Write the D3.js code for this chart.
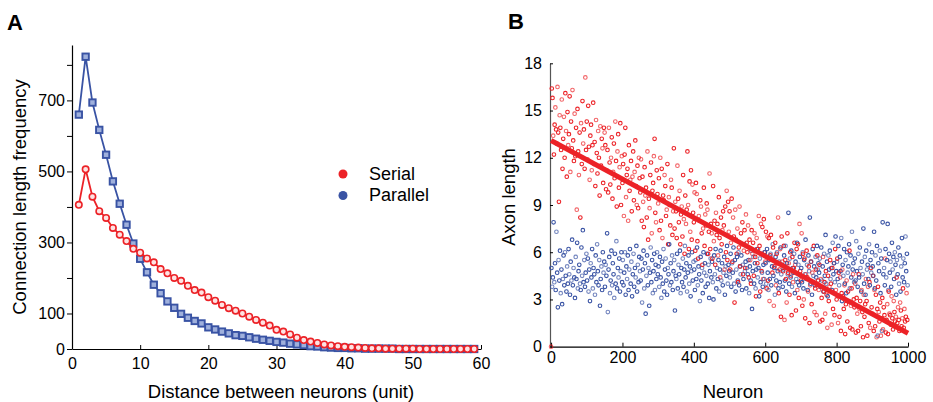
<!DOCTYPE html>
<html>
<head>
<meta charset="utf-8">
<script src="https://cdn.jsdelivr.net/npm/d3@7"></script>
<style>
  body { margin: 0; background: #fff; }
  text { font-family: Arial, "Liberation Sans", sans-serif; }
</style>
</head>
<body>
<svg id="chart"></svg>
<script>
// ---- panel A: connection length histograms ----
const distance = d3.range(1, 60);
const serialFreq = [406, 506, 429, 388, 369, 341, 322, 304, 282, 271, 255, 244, 225, 213, 200, 192, 178, 166, 159,
  146, 136, 124, 115, 108, 100, 91, 82, 74, 66, 54, 49, 41, 32, 25, 21, 17, 13, 10, 8, 6, 5, 4, 3, 2, 2,
  1, 1, 1, 1, 1, 0, 0, 0, 0, 0, 0, 0, 0, 0];
const parallelFreq = [660, 823, 694, 617, 547, 472, 409, 350, 297, 254, 216, 181, 157, 134, 116, 99, 88, 79, 72,
  61, 55, 49, 44, 39, 37, 33, 29, 26, 23, 20, 18, 15, 13, 11, 8, 7, 5, 4, 3, 3, 2, 2, 1, 1, 1,
  1, 1, 0, 0, 0, 0, 0, 0, 0, 0, 0, 0, 0, 0];
const freqTicks = d3.range(0, 900, 100);
const freqLabels = [0, 100, 300, 500, 700];
const distTicks = [0, 10, 20, 30, 40, 50, 60];
const legendNames = ["Serial", "Parallel"];

// ---- panel B: axon length per neuron (every 2nd neuron) ----
const serialAxon = [
  0.0, 16.4, 15.8, 13.4, 12.2, 14.1, 15.2, 13.8, 12.9, 16.5, 13.6, 9.2, 14.7, 13.9, 12.5, 15.7, 11.3, 13.2, 14.6, 12.0, 16.1, 13.7, 10.8, 14.9, 12.8,
  13.5, 15.9, 11.1, 14.3, 12.6, 16.3, 13.1, 11.8, 14.8, 12.1, 13.9, 8.7, 15.1, 12.4, 10.9, 13.6, 8.2, 14.2, 11.6, 15.6, 12.9, 13.8, 11.3, 17.1, 12.5,
  14.3, 11.9, 15.3, 12.7, 10.6, 13.4, 14.1, 11.2, 12.8, 15.5, 11.6, 13.0, 10.2, 14.4, 12.3, 11.0, 13.7, 12.0, 9.6, 14.0, 11.5, 13.2, 12.6, 10.4, 13.9,
  13.6, 12.8, 10.0, 11.2, 12.5, 9.8, 13.9, 11.7, 10.3, 12.0, 13.3, 9.4, 11.1, 12.9, 10.7, 14.3, 11.8, 8.9, 12.4, 13.5, 10.1, 11.4, 14.2, 9.0, 12.1,
  10.4, 11.6, 8.3, 12.2, 13.9, 9.5, 10.9, 11.3, 8.0, 12.8, 9.9, 10.6, 11.8, 8.6, 10.8, 12.4, 9.3, 11.1, 13.1, 10.2, 9.0, 11.5, 8.8, 12.0, 10.7,
  9.8, 11.9, 8.0, 10.8, 9.2, 7.6, 11.4, 9.6, 10.1, 8.2, 12.4, 6.8, 9.4, 8.8, 10.9, 11.7, 7.2, 9.9, 10.4, 12.1, 13.2, 8.5, 7.9, 11.2, 9.7,
  9.1, 10.7, 7.4, 12.0, 8.0, 11.3, 6.9, 9.6, 9.3, 10.9, 10.2, 8.3, 8.7, 11.6, 6.5, 9.5, 9.0, 7.7, 10.6, 10.1, 7.1, 8.6, 12.6, 7.5, 9.2,
  8.6, 6.9, 11.5, 9.4, 7.9, 9.9, 6.5, 8.4, 8.9, 7.0, 10.9, 8.1, 5.9, 9.6, 7.8, 8.7, 12.4, 9.0, 6.2, 10.5, 7.3, 11.2, 6.8, 10.3, 8.5,
  7.9, 9.8, 6.1, 10.4, 9.7, 6.7, 5.6, 8.3, 8.0, 9.3, 8.9, 7.2, 5.2, 7.5, 10.1, 6.4, 8.4, 7.7, 9.1, 8.7, 5.9, 7.3, 11.0, 6.2, 7.8,
  7.2, 5.6, 10.2, 6.7, 8.0, 5.2, 8.5, 7.1, 7.8, 5.8, 9.5, 6.9, 4.4, 8.2, 6.5, 7.4, 8.6, 7.7, 4.9, 8.9, 6.0, 9.9, 5.5, 9.2, 7.3,
  8.6, 4.9, 6.6, 9.4, 5.4, 8.2, 7.0, 2.8, 8.7, 6.8, 5.9, 7.5, 4.1, 6.3, 8.9, 5.1, 7.2, 6.5, 7.9, 4.6, 6.1, 7.4, 5.0, 8.4, 6.6,
  6.0, 7.7, 4.4, 6.8, 5.5, 4.0, 7.4, 5.9, 6.6, 4.5, 7.2, 5.7, 3.2, 6.9, 5.3, 6.2, 8.3, 6.4, 3.5, 7.8, 4.8, 7.6, 4.3, 8.1, 6.0,
  5.4, 7.3, 3.7, 7.0, 4.2, 6.9, 2.9, 5.8, 7.1, 5.6, 4.7, 6.3, 2.6, 5.1, 6.6, 3.9, 5.9, 5.3, 8.2, 3.4, 4.9, 6.2, 1.9, 7.0, 5.4,
  4.8, 6.4, 1.7, 5.5, 4.3, 2.8, 7.2, 4.7, 5.3, 3.3, 6.0, 4.5, 2.0, 5.7, 4.1, 5.0, 6.6, 5.2, 2.3, 6.2, 3.6, 6.5, 3.1, 7.8, 4.8,
  4.2, 7.2, 2.6, 5.9, 3.0, 5.6, 1.8, 4.6, 6.1, 4.4, 3.5, 5.1, 1.5, 3.9, 5.4, 2.7, 4.7, 4.1, 6.4, 2.2, 3.7, 4.9, 2.0, 5.8, 4.2,
  3.6, 5.2, 1.6, 4.3, 3.1, 1.7, 5.7, 3.5, 4.1, 2.1, 4.8, 3.3, 1.2, 4.5, 2.9, 3.8, 5.5, 4.0, 1.4, 5.0, 2.4, 5.3, 2.0, 6.2, 3.6,
  3.0, 5.6, 1.5, 4.7, 1.9, 4.4, 1.0, 3.4, 4.9, 3.2, 2.4, 3.9, 0.8, 2.7, 4.2, 1.6, 3.5, 2.9, 6.1, 1.2, 2.6, 3.7, 1.1, 4.6, 3.0,
  2.5, 4.0, 0.9, 3.1, 2.1, 1.0, 4.6, 2.4, 2.9, 1.3, 3.6, 2.2, 0.6, 3.3, 1.9, 2.7, 4.3, 2.9, 0.7, 3.8, 1.5, 4.1, 1.2, 5.0, 2.5,
  2.1, 4.5, 1.0, 3.6, 1.3, 3.3, 0.6, 2.4, 3.8, 2.2, 1.6, 2.8, 0.7, 1.8, 3.1, 1.1, 2.5, 2.0, 5.6, 0.9, 1.7, 2.7, 0.8, 3.5, 2.1,
  2.0, 1.4, 3.2, 1.8, 1.1, 2.9, 2.2, 1.6, 1.9, 4.4, 1.5, 2.5, 1.7, 1.0, 2.8, 2.3, 1.3, 1.8, 3.7, 1.2, 2.4, 1.6, 1.9, 3.4, 1.7
];
const parallelAxon = [
  5.0, 3.8, 4.4, 7.9, 4.1, 5.3, 3.6, 7.3, 4.7, 2.5, 5.5, 4.2, 6.1, 3.4, 4.9, 2.7, 4.3, 5.8, 3.9, 6.0, 4.5, 3.5, 5.1, 4.0, 6.2,
  4.6, 3.3, 5.4, 4.2, 6.8, 3.9, 5.0, 4.4, 3.1, 5.7, 4.3, 6.6, 3.7, 4.8, 5.2, 4.0, 3.6, 6.3, 4.5, 7.4, 4.1, 5.5, 3.8, 4.7, 5.9,
  4.2, 5.6, 3.5, 4.9, 2.9, 5.3, 4.4, 6.2, 3.7, 5.0, 4.6, 3.3, 5.8, 4.1, 6.5, 4.8, 3.9, 5.5, 2.6, 4.3, 5.1, 3.6, 6.0, 4.7, 5.4,
  3.8, 5.2, 4.5, 7.2, 2.2, 4.9, 5.7, 3.4, 4.2, 6.1, 3.9, 5.3, 4.6, 3.1, 5.9, 4.0, 6.7, 3.7, 5.0, 4.4, 5.6, 3.5, 4.8, 6.0, 4.1,
  5.5, 3.9, 4.7, 6.0, 3.3, 5.1, 4.3, 5.8, 3.6, 4.9, 6.2, 4.0, 5.4, 3.2, 4.6, 5.9, 3.8, 5.0, 4.4, 6.4, 3.5, 5.2, 4.1, 5.7, 4.8,
  4.2, 5.6, 2.8, 4.9, 6.1, 3.7, 5.3, 2.1, 4.5, 5.8, 3.9, 5.0, 2.6, 4.7, 6.3, 4.1, 5.5, 3.4, 4.8, 5.9, 3.6, 5.2, 4.3, 6.0, 4.6,
  5.1, 3.8, 5.7, 4.4, 3.1, 5.4, 4.0, 6.2, 3.5, 4.9, 5.6, 4.2, 3.3, 5.0, 4.6, 6.5, 3.9, 5.3, 4.1, 5.8, 3.6, 4.8, 5.5, 2.3, 4.5,
  4.3, 5.9, 3.7, 5.2, 4.6, 6.1, 3.4, 5.0, 4.1, 5.6, 3.8, 4.9, 6.4, 4.4, 5.3, 3.5, 4.7, 5.8, 4.0, 5.1, 3.2, 4.8, 6.0, 4.2, 5.4,
  4.9, 3.6, 5.5, 4.3, 6.3, 3.9, 5.1, 4.6, 2.9, 5.7, 4.2, 5.0, 3.4, 6.0, 4.7, 5.3, 3.8, 4.5, 5.9, 4.0, 5.2, 3.1, 4.8, 5.6, 4.4,
  5.4, 4.1, 3.0, 5.8, 4.6, 6.2, 3.7, 5.0, 4.3, 5.5, 3.5, 4.9, 6.1, 4.2, 5.3, 3.9, 4.7, 5.7, 3.3, 5.1, 4.5, 6.4, 4.0, 5.2, 4.8,
  4.4, 5.9, 3.8, 5.3, 4.7, 6.3, 4.0, 5.5, 3.5, 4.9, 5.7, 4.2, 6.0, 3.9, 5.1, 4.6, 5.8, 3.6, 5.2, 4.3, 6.5, 4.8, 5.4, 3.7, 5.0,
  4.6, 5.5, 3.4, 5.1, 4.2, 6.1, 2.4, 4.8, 5.7, 4.0, 5.3, 3.7, 4.9, 6.2, 4.4, 5.0, 3.2, 5.6, 4.1, 5.9, 4.7, 3.8, 5.2, 4.3, 6.0,
  5.3, 4.0, 6.2, 4.7, 3.6, 5.5, 4.3, 5.9, 3.9, 5.1, 6.5, 4.5, 5.0, 3.3, 5.7, 4.2, 6.0, 4.8, 3.7, 5.4, 4.1, 6.3, 4.6, 5.2, 3.8,
  4.9, 5.8, 4.2, 6.4, 3.5, 5.3, 4.6, 8.5, 4.0, 5.6, 4.4, 6.1, 3.8, 5.0, 4.7, 5.9, 3.4, 5.4, 4.3, 6.6, 4.1, 5.2, 3.9, 5.7, 4.5,
  5.0, 4.1, 6.0, 3.7, 5.5, 4.6, 6.8, 4.3, 5.2, 3.6, 5.8, 4.8, 8.2, 4.0, 5.4, 3.3, 6.2, 4.5, 5.1, 3.9, 5.7, 4.4, 6.4, 4.9, 5.3,
  4.7, 5.6, 3.8, 6.3, 4.2, 5.1, 3.5, 5.9, 4.5, 7.1, 4.0, 5.4, 3.2, 5.8, 4.9, 6.1, 4.3, 5.0, 3.6, 6.6, 4.6, 5.3, 4.1, 7.0, 4.8,
  5.4, 4.3, 6.4, 3.9, 5.7, 4.8, 6.9, 2.9, 5.2, 4.5, 6.2, 4.0, 5.5, 3.4, 6.0, 4.7, 5.1, 6.5, 3.7, 5.8, 4.4, 7.3, 4.9, 5.3, 4.1,
  5.6, 4.2, 6.7, 4.8, 3.8, 5.9, 4.4, 6.3, 5.0, 3.5, 5.4, 4.6, 7.5, 4.0, 5.7, 3.3, 6.1, 4.9, 5.2, 4.3, 6.5, 3.9, 5.5, 4.7, 6.0,
  5.1, 4.5, 7.3, 3.7, 5.8, 4.2, 6.4, 0.7, 5.3, 4.8, 6.1, 3.4, 5.6, 1.0, 7.9, 4.6, 5.0, 3.9, 6.2, 4.4, 5.5, 7.8, 3.6, 5.9, 4.7,
  5.4, 3.8, 6.6, 4.9, 5.7, 4.3, 6.0, 5.2, 3.3, 5.5, 4.6, 6.3, 4.0, 5.8, 3.5, 5.1, 6.9, 4.4, 5.6, 4.1, 5.3, 7.0, 4.8, 5.9, 3.9
];
const neuronStep = 2;
const fitNeuron = [0, 1000];
const fitAxon = [13.1, 0.85];
const neuronTicks = [0, 200, 400, 600, 800, 1000];
const axonTicks = [0, 3, 6, 9, 12, 15, 18];

const red = "#ec2227";
const blue = "#3953a4";

const svg = d3.select("#chart").attr("width", 933).attr("height", 402);

// ================= panel A =================
const xA = d3.scaleLinear().domain([0, 60]).range([72, 481]);
const yA = d3.scaleLinear().domain([0, 856]).range([349, 45]);

const gA = svg.append("g");

gA.append("g")
  .attr("transform", "translate(72,0)")
  .call(d3.axisLeft(yA).tickValues(freqTicks).tickSize(5).tickSizeOuter(0).tickPadding(2)
    .tickFormat(d => freqLabels.includes(d) ? d : ""))
  .call(g => g.selectAll("text").attr("font-size", 16).attr("fill", "#000"));

gA.append("g")
  .attr("transform", "translate(0,349)")
  .call(d3.axisBottom(xA).tickValues(distTicks).tickSize(-4).tickSizeOuter(0).tickPadding(9))
  .call(g => g.selectAll("text").attr("font-size", 16).attr("fill", "#000"));

gA.selectAll(".domain").attr("stroke", "#000").attr("stroke-width", 1.2);

const lineA = d3.line().x(d => xA(d[0])).y(d => yA(d[1]));

const serialPts = distance.map((d, i) => [d, serialFreq[i]]);
const parallelPts = distance.map((d, i) => [d, parallelFreq[i]]);

// parallel below, serial on top where they overlap at the tail
gA.append("path").datum(parallelPts).attr("d", lineA)
  .attr("fill", "none").attr("stroke", blue).attr("stroke-width", 1.8);
gA.selectAll("rect.par").data(parallelPts).join("rect").attr("class", "par")
  .attr("x", d => xA(d[0]) - 3.2).attr("y", d => yA(d[1]) - 3.2)
  .attr("width", 6.4).attr("height", 6.4)
  .attr("fill", "#9fb0dc").attr("stroke", blue).attr("stroke-width", 1.9);

gA.append("path").datum(serialPts).attr("d", lineA)
  .attr("fill", "none").attr("stroke", red).attr("stroke-width", 1.8);
gA.selectAll("circle.ser").data(serialPts).join("circle").attr("class", "ser")
  .attr("cx", d => xA(d[0])).attr("cy", d => yA(d[1])).attr("r", 3.2)
  .attr("fill", "#fde3e3").attr("stroke", red).attr("stroke-width", 1.6);

gA.append("text")
  .attr("transform", "translate(26,197) rotate(-90)")
  .attr("text-anchor", "middle").attr("font-size", 18.5)
  .text("Connection length frequency");

gA.append("text").attr("x", 281).attr("y", 398)
  .attr("text-anchor", "middle").attr("font-size", 18.5)
  .text("Distance between neurons (unit)");

const legend = gA.append("g");
legendNames.forEach((name, i) => {
  legend.append("circle").attr("cx", 343).attr("cy", 174 + i * 21.5).attr("r", 4.5)
    .attr("fill", i === 0 ? red : blue);
  legend.append("text").attr("x", 369).attr("y", 180 + i * 21)
    .attr("font-size", 18).text(name);
});

svg.append("text").attr("x", 7).attr("y", 30).attr("font-size", 22)
  .attr("font-weight", "bold").text("A");

// ================= panel B =================
const xB = d3.scaleLinear().domain([-3, 1000]).range([550, 908]);
const yB = d3.scaleLinear().domain([0, 18]).range([346.7, 63.3]);

const gB = svg.append("g");

gB.append("g")
  .attr("transform", "translate(550,0)")
  .call(d3.axisLeft(yB).tickValues(axonTicks).tickSize(-3).tickSizeOuter(0).tickPadding(8))
  .call(g => g.select(".domain").attr("stroke", "#555").attr("stroke-width", 1.2))
  .call(g => g.selectAll("text").attr("font-size", 16).attr("fill", "#000"));

gB.append("g")
  .attr("transform", "translate(0,346.7)")
  .call(d3.axisBottom(xB).tickValues(neuronTicks).tickSize(-4).tickSizeOuter(0).tickPadding(5)
    .tickFormat(d3.format("d")))
  .call(g => g.select(".domain").attr("stroke", "#000").attr("stroke-width", 1.2))
  .call(g => g.selectAll("text").attr("font-size", 16).attr("fill", "#000"));

const scatter = [];
serialAxon.forEach((v, i) => {
  scatter.push({ n: i * neuronStep, v: v, c: red });
  scatter.push({ n: i * neuronStep + 1, v: parallelAxon[i], c: blue });
});

gB.selectAll("circle.pt").data(scatter).join("circle").attr("class", "pt")
  .attr("cx", d => xB(d.n)).attr("cy", d => yB(d.v)).attr("r", 1.8)
  .attr("fill", "none").attr("stroke", d => d.c).attr("stroke-width", 1.1)
  .attr("opacity", (d, i) => i % 3 === 0 ? 0.7 : 1);

gB.append("line")
  .attr("x1", xB(fitNeuron[0])).attr("y1", yB(fitAxon[0]))
  .attr("x2", xB(fitNeuron[1])).attr("y2", yB(fitAxon[1]))
  .attr("stroke", red).attr("stroke-width", 5);

gB.append("text").attr("transform", "translate(515,197) rotate(-90)")
  .attr("text-anchor", "middle").attr("font-size", 18.5).text("Axon length");

gB.append("text").attr("x", 733).attr("y", 398)
  .attr("text-anchor", "middle").attr("font-size", 18.5).text("Neuron");

svg.append("text").attr("x", 508).attr("y", 29).attr("font-size", 22)
  .attr("font-weight", "bold").text("B");
</script>
</body>
</html>
